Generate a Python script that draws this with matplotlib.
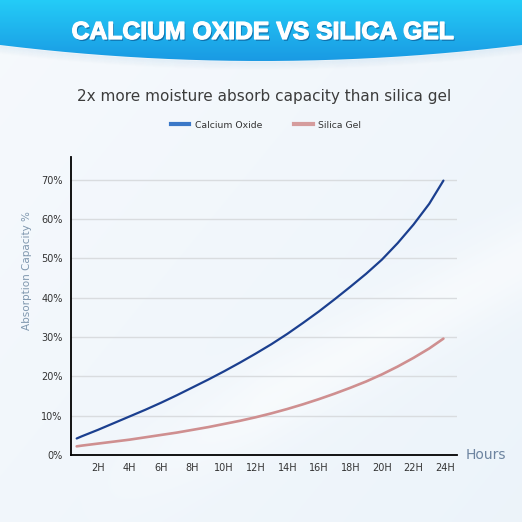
import numpy as np
import matplotlib.pyplot as plt
import matplotlib.patheffects as pe
from matplotlib.path import Path
from matplotlib.patches import PathPatch
from matplotlib.lines import Line2D

# values (hours -> absorption %)
hours = [0.65, 1, 2, 3, 4, 5, 6, 7, 8, 9, 10, 11, 12,
         13, 14, 15, 16, 17, 18, 19, 20, 21, 22, 23, 23.9]
calcium_oxide = [4.2, 4.8, 6.4, 8.1, 9.8, 11.5, 13.3, 15.2, 17.2, 19.2, 21.3, 23.5, 25.8,
                 28.2, 30.8, 33.6, 36.5, 39.6, 42.8, 46.1, 49.7, 53.9, 58.6, 63.9, 69.8]
silica_gel = [2.2, 2.4, 2.9, 3.4, 3.9, 4.5, 5.1, 5.7, 6.4, 7.1, 7.9, 8.7, 9.6,
              10.6, 11.7, 12.9, 14.2, 15.6, 17.1, 18.7, 20.5, 22.5, 24.7, 27.1, 29.6]
tick_hours = [2, 4, 6, 8, 10, 12, 14, 16, 18, 20, 22, 24]
tick_labels = [f"{h}H" for h in tick_hours]
pct_ticks = [0, 10, 20, 30, 40, 50, 60, 70]
pct_labels = [f"{p}%" for p in pct_ticks]

W = H = 522
fig = plt.figure(figsize=(5.22, 5.22), dpi=100)

# page background
bg = fig.add_axes([0, 0, 1, 1])
bg.set_xlim(0, W)
bg.set_ylim(H, 0)
bg.axis("off")
gx, gy = np.meshgrid(np.linspace(0, 1, 300), np.linspace(0, 1, 300))
t = np.clip(0.55 * gx + 0.45 * gy, 0, 1)
base = np.array([0.965, 0.978, 0.992])
tint = np.array([0.90, 0.94, 0.972])
img = base * (1 - t[..., None] * 0.6) + tint * (t[..., None] * 0.6)
# soft white swoosh at the bottom right
fade = np.clip((gx - 0.15) / 0.35, 0, 1)
band = np.exp(-((gy - (1.05 - 0.55 * gx)) / 0.08) ** 2) * fade
img = img * (1 - band[..., None] * 0.5) + band[..., None] * 0.5
bg.imshow(img, extent=[0, W, H, 0], aspect="auto", zorder=0)

# blue banner with curved bottom
bx = np.linspace(0, W, 200)
u = (bx - 261) / 261
by = 45 + 16 * (1 - u ** 2)
verts = [(0, 0)] + list(zip(bx, by)) + [(W, 0), (0, 0)]
banner = PathPatch(Path(verts), facecolor="none", edgecolor="none")
bg.add_patch(banner)
grad = np.linspace(0, 1, 100)[:, None]
top_c = np.array([0.14, 0.80, 0.97])
bot_c = np.array([0.10, 0.60, 0.89])
bimg = top_c * (1 - grad[..., None]) + bot_c * grad[..., None]
bimg = np.repeat(bimg, 2, axis=1)
im = bg.imshow(bimg, extent=[0, W, 62, 0], aspect="auto", zorder=1)
im.set_clip_path(banner)
for k in range(1, 9):
    bg.plot(bx, by + k, color="#7fb6dc", alpha=0.10 * (1 - k / 9), lw=1.2, zorder=1)

fig.text(263 / W, 1 - 32 / H, "CALCIUM OXIDE VS SILICA GEL", ha="center", va="center",
         fontsize=17.8, fontweight="bold", color="white", family="Liberation Sans",
         path_effects=[pe.SimplePatchShadow(offset=(1, -1.3), shadow_rgbFace="#0b5a94", alpha=0.7),
                       pe.withStroke(linewidth=0.9, foreground="white")])

fig.text(264 / W, 1 - 96 / H, "2x more moisture absorb capacity than silica gel",
         ha="center", va="center", fontsize=11, color="#3c3c3c", family="DejaVu Sans")

# chart
ax = fig.add_axes([71 / W, 67 / H, (457 - 71) / W, (455 - 157) / H])
ax.patch.set_alpha(0)
ax.plot(hours, calcium_oxide, color="#1b3f8f", lw=1.6, solid_capstyle="round",
        solid_joinstyle="round", zorder=3)
ax.plot(hours, silica_gel, color="#cf8f90", lw=1.9, solid_capstyle="round",
        solid_joinstyle="round", zorder=3)
ax.set_xlim(0.29, 24.76)
ax.set_ylim(0, 75.8)
ax.set_xticks(tick_hours, tick_labels)
ax.set_yticks(pct_ticks, pct_labels)
ax.tick_params(length=0, labelsize=7, colors="#333333")
ax.tick_params(axis="x", pad=6)
ax.tick_params(axis="y", pad=6)
for p in pct_ticks[1:]:
    ax.axhline(p, color="#d9dcdf", lw=1, zorder=1)
for side in ("top", "right"):
    ax.spines[side].set_visible(False)
for side in ("left", "bottom"):
    ax.spines[side].set_color("black")
    ax.spines[side].set_linewidth(1.3)

fig.text(27 / W, 1 - 271 / H, "Absorption Capacity %", rotation=90, ha="center", va="center",
         fontsize=7.5, color="#7f97ae")
fig.text(466 / W, 1 - 455 / H, "Hours", ha="left", va="center", fontsize=10, color="#6d84a0")

handles = [Line2D([], [], color="#3b78c8", lw=3), Line2D([], [], color="#d59c9d", lw=3)]
fig.legend(handles, ["Calcium Oxide", "Silica Gel"], loc="center", ncol=2,
           bbox_to_anchor=(266 / W, 1 - 125 / H), frameon=False, fontsize=6.7,
           handlelength=2.0, handletextpad=0.6, columnspacing=3.4, labelcolor="#333333")

fig.savefig("out.png", dpi=100)
